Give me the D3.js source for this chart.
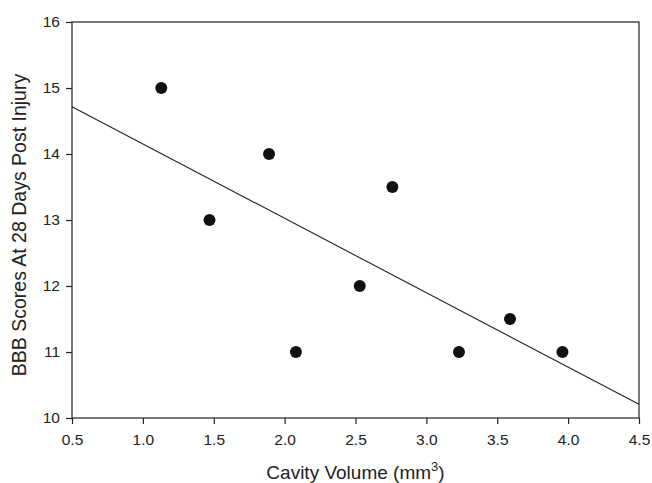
<!DOCTYPE html>
<html>
<head>
<meta charset="utf-8">
<script src="https://cdn.jsdelivr.net/npm/d3@7"></script>
<style>
  body { margin: 0; background: #fff; }
  text { font-family: "Liberation Sans", Arial, sans-serif; fill: #222; }
</style>
</head>
<body>
<svg id="canvas" width="652" height="483"></svg>
<script>
// cavity volume (mm3) vs BBB score at 28 days
let cavityVolume = [1.13, 1.47, 1.89, 2.08, 2.53, 2.76, 3.23, 3.59, 3.96]
let bbbScore = [15, 13, 14, 11, 12, 13.5, 11, 11.5, 11]
let xTicks = [0.5, 1.0, 1.5, 2.0, 2.5, 3.0, 3.5, 4.0, 4.5]
let yTicks = [10, 11, 12, 13, 14, 15, 16]

let canvas = d3.select('#canvas')
let plotLeft = 72, plotRight = 639, plotTop = 22, plotBottom = 418

let x = d3.scaleLinear().domain([0.5, 4.5]).range([plotLeft, plotRight])
let y = d3.scaleLinear().domain([10, 16]).range([plotBottom, plotTop])

// frame
canvas.append('rect')
    .attr('x', plotLeft).attr('y', plotTop)
    .attr('width', plotRight - plotLeft).attr('height', plotBottom - plotTop)
    .attr('fill', 'none').attr('stroke', '#222').attr('stroke-width', 1.2)

let xAxis = canvas.append('g')
    .attr('transform', `translate(0,${plotBottom})`)
    .call(d3.axisBottom(x).tickValues(xTicks).tickFormat(d3.format('.1f')).tickSize(6).tickPadding(10))
let yAxis = canvas.append('g')
    .attr('transform', `translate(${plotLeft},0)`)
    .call(d3.axisLeft(y).tickValues(yTicks).tickFormat(d3.format('d')).tickSize(6).tickPadding(6))

for (let ax of [xAxis, yAxis]) {
    ax.select('.domain').remove()
    ax.selectAll('line').attr('stroke', '#222').attr('stroke-width', 1.2)
    ax.selectAll('text').style('font-size', '15.5px').attr('fill', '#222')
}

// least squares fit line
let data = cavityVolume.map((v, i) => ({ x: v, y: bbbScore[i] }))
let mx = d3.mean(cavityVolume), my = d3.mean(bbbScore)
let slope = d3.sum(data, d => (d.x - mx) * (d.y - my)) / d3.sum(data, d => (d.x - mx) ** 2)
let intercept = my - slope * mx
let lineX = x.domain()

canvas.append('path')
    .datum(lineX)
    .attr('d', d3.line().x(d => x(d)).y(d => y(intercept + slope * d)))
    .attr('fill', 'none').attr('stroke', '#222').attr('stroke-width', 1.1)

canvas.selectAll('circle')
    .data(data)
    .enter()
    .append('circle')
    .attr('cx', d => x(d.x))
    .attr('cy', d => y(d.y))
    .attr('r', 6)
    .attr('fill', '#111')

// axis titles
let xt = canvas.append('text')
    .attr('x', (plotLeft + plotRight) / 2).attr('y', 479)
    .attr('text-anchor', 'middle')
    .style('font-size', '19px')
xt.append('tspan').text('Cavity Volume (mm')
xt.append('tspan').attr('dy', -8).style('font-size', '13px').text('3')
xt.append('tspan').attr('dy', 8).text(')')

canvas.append('text')
    .attr('transform', `translate(26,225) rotate(-90)`)
    .attr('text-anchor', 'middle')
    .style('font-size', '19.5px')
    .text('BBB Scores At 28 Days Post Injury')
</script>
</body>
</html>
